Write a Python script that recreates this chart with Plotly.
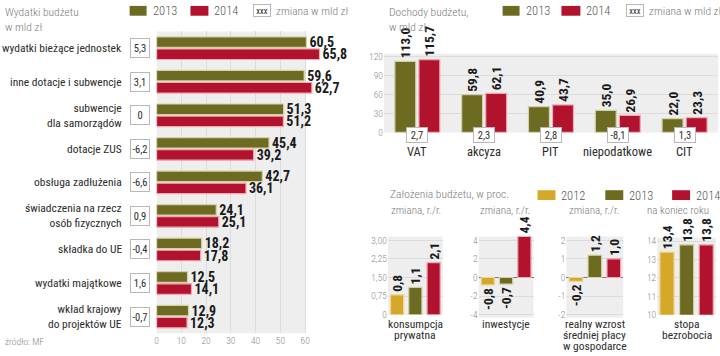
import plotly.graph_objects as go

# ---------------- data ----------------
exp_categories = ["wydatki bieżące jednostek", "inne dotacje i subwencje",
                  "subwencje<br>dla samorządów", "dotacje ZUS", "obsługa zadłużenia",
                  "świadczenia na rzecz<br>osób fizycznych", "składka do UE",
                  "wydatki majątkowe", "wkład krajowy<br>do projektów UE"]
exp_2013 = [60.5, 59.6, 51.3, 45.4, 42.7, 24.1, 18.2, 12.5, 12.9]
exp_2014 = [65.8, 62.7, 51.2, 39.2, 36.1, 25.1, 17.8, 14.1, 12.3]
exp_change = [5.3, 3.1, 0, -6.2, -6.6, 0.9, -0.4, 1.6, -0.7]
exp_ticks = [0, 10, 20, 30, 40, 50, 60]

rev_categories = ["VAT", "akcyza", "PIT", "niepodatkowe", "CIT"]
rev_2013 = [113.0, 59.8, 40.9, 35.0, 22.0]
rev_2014 = [115.7, 62.1, 43.7, 26.9, 23.3]
rev_change = [2.7, 2.3, 2.8, -8.1, 1.3]
rev_ticks = [0, 30, 60, 90, 120]

years = ["2012", "2013", "2014"]
as_names = [["konsumpcja", "prywatna"], ["inwestycje"],
            ["realny wzrost", "średniej płacy", "w gospodarce"], ["stopa", "bezrobocia"]]
as_sub = ["zmiana, r./r.", "zmiana, r./r.", "zmiana, r./r.", "na koniec roku"]
as_values = [[0.8, 1.1, 2.1], [-0.8, -0.7, 4.4], [-0.2, 1.2, 1.0], [13.4, 13.8, 13.8]]
as_tickvals = [[0, 0.75, 1.5, 2.25, 3.0], [-4, -2, 0, 2, 4], [-2, -1, 0, 1, 2], [10, 11, 12, 13, 14]]
as_ticktext = [["0", "0,75", "1,50", "2,25", "3,00"], ["-4", "-2", "0", "2", "4"],
               ["-2", "-1", "0", "1", "2"], ["10", "11", "12", "13", "14"]]

# ---------------- style ----------------
W, H = 720, 356
OLIVE, RED, GOLD = "#6d6a22", "#b1122d", "#d6a82a"
OLIVE_L, RED_L, GOLD_L = "#d3d1a8", "#f0a9b3", "#efd58f"
BG = "#eeeeee"
GRID = "#dcdcdc"
TXT = "#2b2b2b"
GRAY = "#7a7a7a"
FONT = "Roboto Condensed, Roboto, sans-serif"
VALFONT = dict(family=FONT, size=14, color="#1a1a1a", weight=700)
VALFONT_R = dict(family=FONT, size=13.5, color="#1a1a1a", weight=700)


def fx(px):
    return px / W


def fy(py):
    return 1 - py / H


def fmt(v):
    return "0" if v == 0 else f"{v:.1f}".replace(".", ",")


fig = go.Figure()
ann = []
shapes = []

# ---------------- left: expenditures ----------------
for vals, col, lc in [(exp_2013, OLIVE, OLIVE_L), (exp_2014, RED, RED_L)]:
    fig.add_trace(go.Bar(
        y=exp_categories, x=vals, orientation="h", xaxis="x", yaxis="y",
        marker=dict(color=col, line=dict(color=lc, width=1.2)),
        text=[fmt(v) for v in vals], textposition="outside", cliponaxis=False,
        textfont=VALFONT, constraintext="none", hoverinfo="skip"))

for cat, ch in zip(exp_categories, exp_change):
    ann.append(dict(x=fx(122), xref="paper", y=cat, yref="y", text=cat,
                    xanchor="right", yanchor="middle", align="right", showarrow=False,
                    font=dict(family=FONT, size=11.5, color=TXT)))
    ann.append(dict(x=fx(138.5), xref="paper", y=cat, yref="y", text=fmt(ch),
                    xanchor="center", yanchor="middle", showarrow=False,
                    width=16, height=16, borderpad=1, borderwidth=1, bordercolor="#b8b8b8",
                    bgcolor="white", font=dict(family=FONT, size=10.5, color=TXT)))

shapes.append(dict(type="rect", xref="x", yref="y domain", x0=0, x1=60, y0=0, y1=1,
                   fillcolor=BG, line=dict(width=0), layer="below"))

# ---------------- top right: revenues ----------------
for vals, col, lc in [(rev_2013, OLIVE, OLIVE_L), (rev_2014, RED, RED_L)]:
    fig.add_trace(go.Bar(
        x=rev_categories, y=vals, xaxis="x2", yaxis="y2",
        marker=dict(color=col, line=dict(color=lc, width=1.2)),
        text=[fmt(v) for v in vals], textposition="outside", textangle=-90,
        cliponaxis=False, constraintext="none",
        textfont=VALFONT_R, hoverinfo="skip"))

for cat, ch in zip(rev_categories, rev_change):
    ann.append(dict(x=cat, xref="x2", y=fy(136), yref="paper", text=fmt(ch),
                    xanchor="center", yanchor="middle", showarrow=False,
                    width=18, height=12, borderpad=1, borderwidth=1, bordercolor="#b8b8b8",
                    bgcolor="white", font=dict(family=FONT, size=10.5, color=TXT)))
    ann.append(dict(x=cat, xref="x2", y=fy(153), yref="paper", text=cat,
                    xanchor="center", yanchor="middle", showarrow=False,
                    font=dict(family=FONT, size=12.5, color=TXT)))

shapes.append(dict(type="rect", xref="x2 domain", yref="y2 domain", x0=0, x1=1, y0=0, y1=1,
                   fillcolor=BG, line=dict(width=0), layer="below"))

# ---------------- bottom right: assumptions ----------------
as_xdom = [(387, 442), (478, 533), (566, 623), (657, 716)]
as_ydom = [(319, 239.2), (321.9, 239.2), (321.9, 239.2), (319, 240.2)]
as_range = [[0, 3.15], [-4.3, 4.4], [-2.15, 2.2], [10, 14.2]]
as_subx = [388, 477, 567, 645]
for i in range(4):
    n = i + 3
    fig.add_trace(go.Bar(
        x=years, y=as_values[i], xaxis=f"x{n}", yaxis=f"y{n}", width=0.72,
        marker=dict(color=[GOLD, OLIVE, RED], line=dict(color=[GOLD_L, OLIVE_L, RED_L], width=1.2)),
        text=[fmt(v) for v in as_values[i]], textposition="outside", textangle=-90,
        cliponaxis=False, constraintext="none",
        textfont=VALFONT_R, hoverinfo="skip"))
    for j, line in enumerate(as_names[i]):
        ann.append(dict(x=fx((as_xdom[i][0] + as_xdom[i][1]) / 2), xref="paper",
                        y=fy(328 + 11.5 * j), yref="paper",
                        text=line, xanchor="center", yanchor="middle",
                        showarrow=False, font=dict(family=FONT, size=11.5, color=TXT)))
    ann.append(dict(x=fx(as_subx[i]), xref="paper", y=fy(213), yref="paper",
                    text=as_sub[i], xanchor="left", yanchor="middle", showarrow=False,
                    font=dict(family=FONT, size=11, color=GRAY, weight=300)))
    shapes.append(dict(type="rect", xref=f"x{n} domain", yref=f"y{n} domain", x0=0, x1=1, y0=0, y1=1,
                       fillcolor=BG, line=dict(width=0), layer="below"))

# ---------------- titles & legends ----------------
def title(x, y, text):
    ann.append(dict(x=fx(x), xref="paper", y=fy(y), yref="paper", text=text,
                    xanchor="left", yanchor="top", align="left", showarrow=False,
                    font=dict(family=FONT, size=11.5, color=GRAY, weight=300)))


title(1, 1, "Wydatki budżetu<br>w mld zł")
title(386, 1, "Dochody budżetu,<br>w mld zł")
ann.append(dict(x=fx(387), xref="paper", y=fy(196), yref="paper", text="Założenia budżetu, w proc.",
                xanchor="left", yanchor="middle", showarrow=False,
                font=dict(family=FONT, size=11.5, color=GRAY, weight=300)))


def leg_sq(x0, x1, yc, col, label):
    shapes.append(dict(type="rect", xref="paper", yref="paper", x0=fx(x0), x1=fx(x1),
                       y0=fy(yc + 5), y1=fy(yc - 5), fillcolor=col, line=dict(width=0)))
    ann.append(dict(x=fx(x1 + 4), xref="paper", y=fy(yc), yref="paper", text=label,
                    xanchor="left", yanchor="middle", showarrow=False,
                    font=dict(family=FONT, size=12.5, color="#555555", weight=300)))


def leg_box(x0, yc):
    ann.append(dict(x=fx(x0), xref="paper", y=fy(yc), yref="paper", text="xxx",
                    xanchor="left", yanchor="middle", showarrow=False,
                    width=14, height=9, borderpad=1, borderwidth=1, bordercolor="#b8b8b8",
                    bgcolor="white", font=dict(family=FONT, size=8.5, color=TXT)))
    ann.append(dict(x=fx(x0 + 21), xref="paper", y=fy(yc), yref="paper", text="zmiana w mld zł",
                    xanchor="left", yanchor="middle", showarrow=False,
                    font=dict(family=FONT, size=11.5, color=GRAY, weight=300)))


leg_sq(128, 145, 9, OLIVE, "2013")
leg_sq(189, 207, 9, RED, "2014")
leg_box(252, 9)
leg_sq(502, 519, 9, OLIVE, "2013")
leg_sq(561, 580, 9, RED, "2014")
leg_box(626, 9)
leg_sq(537, 555, 197, GOLD, "2012")
leg_sq(605, 623, 197, OLIVE, "2013")
leg_sq(672, 690, 197, RED, "2014")

ann.append(dict(x=fx(1), xref="paper", y=fy(346), yref="paper", text="źródło: MF",
                xanchor="left", yanchor="middle", showarrow=False,
                font=dict(family=FONT, size=9.5, color="#888888", weight=300)))

# ---------------- axes ----------------
tickf = dict(family=FONT, size=9.5, color="#8a8a8a", weight=300)
layout = dict(
    width=W, height=H, margin=dict(l=0, r=0, t=0, b=0), autosize=False,
    paper_bgcolor="white", plot_bgcolor="rgba(0,0,0,0)", showlegend=False,
    barmode="group", bargap=0.28, bargroupgap=0.13,
    annotations=ann, shapes=shapes,
    xaxis=dict(domain=[fx(155), fx(155 + 70 * 149 / 60)], range=[0, 70], tickvals=exp_ticks,
               showgrid=True, gridcolor=GRID, zeroline=False, tickfont=tickf, ticks="",
               anchor="y", fixedrange=True),
    yaxis=dict(domain=[fy(338), fy(30)], autorange="reversed", showticklabels=False,
               showgrid=False, zeroline=False, anchor="x", fixedrange=True),
    xaxis2=dict(domain=[fx(383), fx(718)], showticklabels=False, anchor="y2",
                showgrid=False, zeroline=False, fixedrange=True),
    yaxis2=dict(domain=[fy(133), fy(52.8)], range=[0, 125], tickvals=rev_ticks,
                showgrid=True, gridcolor=GRID, zeroline=False, tickfont=tickf,
                anchor="x2", ticks="", fixedrange=True),
)
for i in range(4):
    n = i + 3
    layout[f"xaxis{n}"] = dict(domain=[fx(as_xdom[i][0]), fx(as_xdom[i][1])], range=[-0.5, 2.5],
                               showticklabels=False, showgrid=False, zeroline=False,
                               anchor=f"y{n}", fixedrange=True)
    layout[f"yaxis{n}"] = dict(domain=[fy(as_ydom[i][0]), fy(as_ydom[i][1])], range=as_range[i],
                               tickvals=as_tickvals[i], ticktext=as_ticktext[i],
                               showgrid=True, gridcolor=GRID, tickfont=tickf, ticks="",
                               zeroline=(i in (1, 2)), zerolinecolor="#7a7a7a", zerolinewidth=1,
                               anchor=f"x{n}", fixedrange=True)
fig.update_layout(**layout)
fig.write_html("out.html", config={"displayModeBar": False},
               post_script="document.body.style.margin='0';document.body.style.padding='0';")
